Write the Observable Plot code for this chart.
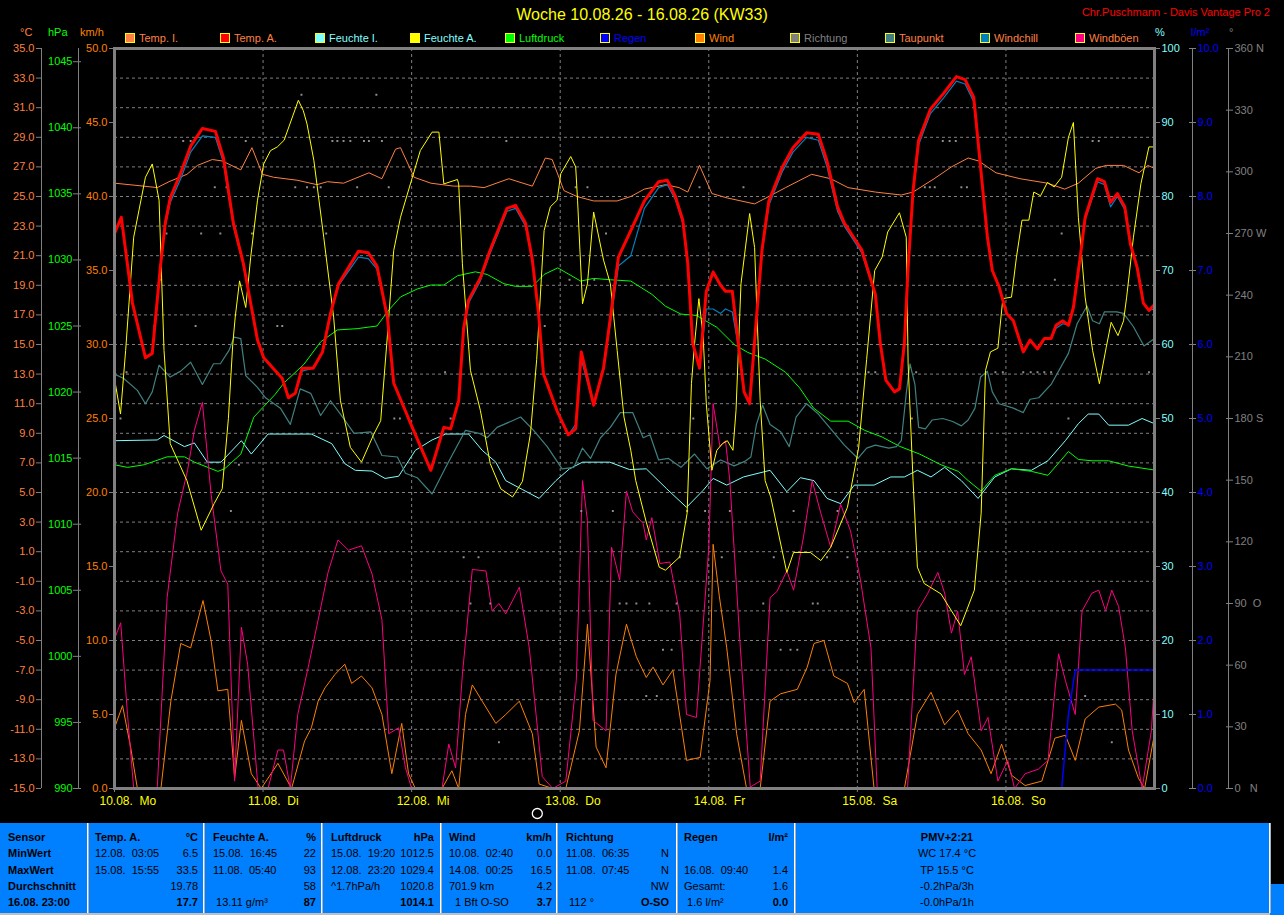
<!DOCTYPE html>
<html><head><meta charset="utf-8">
<script src="https://cdn.jsdelivr.net/npm/d3@7"></script>
<script src="https://cdn.jsdelivr.net/npm/@observablehq/plot@0.6"></script>
<style>
html,body{margin:0;padding:0;background:#000;overflow:hidden;}
#wrap{position:relative;width:1284px;height:915px;font-family:"Liberation Sans",Arial,sans-serif;}
.abs{position:absolute;white-space:pre;line-height:12px;}
#wrap svg{position:absolute;left:0;top:0;}
</style></head><body><div id="wrap"></div>
<script>
// ---------- ticks / labels ----------
const tempTicks = [35,33,31,29,27,25,23,21,19,17,15,13,11,9,7,5,3,1,-1,-3,-5,-7,-9,-11,-13,-15];
const presTicks = [1045,1040,1035,1030,1025,1020,1015,1010,1005,1000,995,990];
const windTicks = [50,45,40,35,30,25,20,15,10,5,0];
const humTicks = [100,90,80,70,60,50,40,30,20,10,0];
const rainTicks = [10,9,8,7,6,5,4,3,2,1,0];
const dirTicks = [360,330,300,270,240,210,180,150,120,90,60,30,0];
const dirLabels = ["360 N","330","300","270 W","240","210","180 S","150","120","90\u00a0\u00a0O","60","30","0\u00a0\u00a0\u00a0N"];
const dayTicks = [0,24,48,72,96,120,144];
const dayLabels = ["10.08.\u00a0\u00a0Mo","11.08.\u00a0\u00a0Di","12.08.\u00a0\u00a0Mi","13.08.\u00a0\u00a0Do","14.08.\u00a0\u00a0Fr","15.08.\u00a0\u00a0Sa","16.08.\u00a0\u00a0So"];

// ---------- series (hour since 10.08. 00:00, value) ----------
const tempA_h = [0,1.1,2.9,5.0,6.1,7.4,8.2,9.0,10.7,12.3,14.2,16.3,17.6,19.2,20.8,23.1,24.1,27.1,28.1,29.2,30.3,32.1,33.6,34.9,36.2,39.4,41.0,42.4,44.1,45.1,48.1,51.1,53.2,54.3,55.6,56.4,57.2,59.1,60.7,63.4,64.8,66.4,67.5,68.5,69.3,71.5,73.3,74.5,75.4,77.4,79.0,80.1,81.4,83.4,85.6,87.9,89.3,90.6,91.8,92.6,93.4,94.5,95.6,96.7,97.9,98.7,99.8,100.9,101.7,102.6,103.7,104.6,105.7,107.9,109.6,111.8,113.7,115.1,116.8,117.9,120.7,122.9,123.7,124.6,126.0,126.8,127.6,128.2,129.0,129.9,131.8,134.0,136.0,137.4,138.8,139.9,141.0,141.8,142.9,144.1,145.2,146.8,147.9,149.1,150.2,151.3,152.1,153.2,154.1,154.9,156.0,156.8,158.8,159.9,160.9,162.0,163.2,164.1,165.2,166.2,167.1,168];
const tempA_v = [22.5,23.6,17.8,14.1,14.4,20.2,23.2,24.9,26.6,28.4,29.6,29.4,27.6,23.2,20.5,15.3,14.1,12.7,11.4,11.7,13.4,13.4,14.5,17.1,19.1,21.3,21.2,20.3,16.8,12.4,9.4,6.5,9.4,9.3,11.2,16.1,18.0,19.5,21.4,24.2,24.4,23.2,20.7,17.1,13.0,10.5,8.9,9.3,14.5,10.9,13.4,16.8,20.9,22.7,24.7,26.0,26.1,25.0,23.4,20.5,15.1,13.4,18.6,19.9,19.0,18.6,18.6,14.6,11.8,11.0,16.8,21.4,24.7,27.0,28.3,29.3,29.2,27.4,24.3,23.2,21.4,18.4,15.1,12.6,11.8,12.0,15.1,20.2,25.4,28.8,30.9,32.0,33.1,32.9,31.7,27.0,22.3,20.0,18.9,17.1,16.6,14.5,15.3,14.7,15.4,15.4,16.3,16.6,16.3,17.5,20.9,23.6,26.2,26.0,24.6,25.2,24.3,21.8,20.2,17.8,17.3,17.7];
const windchill_v = [22.5,23.6,17.8,14.1,14.4,20.2,23.0,24.6,26.2,28.0,29.1,29.0,27.3,23.0,20.4,15.3,14.1,12.7,11.4,11.7,13.2,13.4,14.5,17.1,19.0,20.9,20.8,20.1,16.8,12.4,9.4,6.5,9.4,9.3,11.2,16.0,17.8,19.3,21.2,24.0,24.2,23.0,20.7,17.1,13.0,10.5,8.9,9.6,14.0,10.9,13.4,16.5,20.3,21.0,24.2,25.6,25.8,24.8,23.2,20.5,15.1,13.4,17.4,17.4,17.1,17.4,17.2,14.6,11.8,11.0,16.8,21.2,24.4,26.7,28.0,29.0,28.8,27.0,24.0,23.0,21.2,18.3,15.1,12.6,11.8,12.0,15.1,20.2,25.2,28.5,30.6,31.7,32.8,32.6,31.4,27.0,22.3,20.0,18.9,17.1,16.6,14.5,15.3,14.7,15.4,15.4,16.1,16.4,16.3,17.5,20.9,23.4,26.0,25.8,24.3,25.0,24.1,21.8,20.2,17.8,17.3,17.4];

const tempI = [[0,25.9],[4.7,25.7],[6.9,25.6],[8.8,26.0],[11.7,26.5],[13.4,27.1],[15.8,27.5],[17.4,27.4],[20.4,26.8],[22.2,28.3],[23.9,26.5],[25.7,26.3],[29.5,26.1],[32.7,25.8],[34.4,26.0],[37.0,25.9],[41.1,26.6],[43.2,26.2],[45.4,28.2],[46.2,28.3],[48.4,26.3],[51.1,25.9],[54.8,25.7],[57.5,25.7],[59.7,25.6],[63.7,26.2],[67.5,25.7],[69.6,27.6],[70.7,27.5],[72.6,25.4],[74.7,25.0],[77.4,24.7],[81.2,24.7],[83.4,25.0],[85.6,25.5],[89.0,25.8],[91.2,25.6],[92.6,25.3],[94.5,27.1],[96.5,25.2],[99.0,24.9],[103.4,24.5],[105.7,25.0],[108.4,25.6],[112.6,26.5],[115.7,26.2],[118.5,25.6],[122.9,25.3],[127.1,25.1],[129.0,25.3],[132.4,26.2],[135.2,27.0],[137.9,27.6],[139.6,27.4],[142.4,26.6],[146.3,26.2],[150.7,25.9],[153.5,25.5],[155.7,25.9],[158.5,26.9],[160.2,27.1],[163.0,27.1],[165.5,26.6],[166.9,27.1],[168,26.9]];

const humA = [[0,55.4],[0.97,50.6],[1.8,59.2],[3.1,74.5],[5.0,82.6],[6.1,84.4],[7.2,79.5],[8.0,59.2],[9.0,46.6],[11.7,41.6],[14.0,34.9],[16.1,38.5],[17.4,40.5],[18.4,50.0],[19.1,60.0],[19.5,63.7],[20.2,68.6],[21.2,65.0],[22.0,71.8],[23.1,79.5],[24.1,84.4],[25.2,86.2],[26.3,86.7],[27.4,87.6],[29.7,93.0],[30.5,91.6],[31.1,89.8],[32.2,84.9],[33.8,74.5],[35.4,63.7],[36.5,52.4],[38.1,46.1],[39.9,44.1],[41.9,47.9],[43.0,49.7],[44.1,61.4],[45.1,72.7],[46.2,77.2],[47.8,81.7],[49.4,86.2],[51.3,88.7],[52.4,88.7],[53.2,81.7],[55.4,82.3],[55.6,81.7],[56.2,70.9],[57.5,56.5],[59.1,51.1],[60.7,43.9],[62.4,40.5],[64.3,39.4],[65.9,41.5],[67.2,48.0],[68.2,58.0],[69.4,75.4],[70.4,78.6],[71.5,79.5],[72.1,83.1],[73.7,85.4],[74.5,84.0],[74.8,79.5],[75.6,65.5],[76.4,68.2],[77.4,77.9],[79.0,71.4],[80.1,68.2],[81.2,59.2],[82.3,50.2],[83.4,45.7],[84.2,41.6],[85.9,36.0],[88.0,29.9],[89.0,29.5],[91.3,31.3],[92.5,37.2],[93.2,54.7],[93.7,60.1],[94.4,66.2],[95.1,61.0],[95.6,52.0],[96.5,43.0],[97.3,45.7],[98.2,46.6],[99.0,47.0],[99.9,45.7],[100.4,51.1],[101.2,68.2],[102.6,77.7],[103.4,73.1],[104.3,52.4],[105.1,41.6],[106.0,39.4],[108.6,29.2],[109.7,31.9],[112.4,31.9],[114.1,30.8],[115.7,32.6],[118.4,38.0],[120.2,46.0],[121.5,58.0],[122.8,70.0],[124.0,71.8],[124.9,75.2],[126.8,77.8],[127.9,74.5],[128.2,57.4],[129.0,41.6],[129.7,29.9],[130.8,27.7],[133.5,26.3],[136.7,22.0],[138.9,26.8],[140.0,37.2],[140.7,56.5],[141.5,59.0],[142.7,59.5],[143.5,66.2],[144.9,66.4],[145.7,71.8],[146.6,76.8],[147.7,76.8],[148.5,80.6],[149.6,80.1],[150.7,81.9],[151.8,81.3],[153.0,82.6],[154.1,88.0],[154.9,90.0],[155.7,77.2],[156.8,66.4],[158.0,59.2],[159.1,54.7],[160.2,59.6],[161.0,63.0],[162.1,61.2],[163.0,63.2],[163.5,66.4],[164.6,74.5],[165.8,81.7],[167.1,86.7],[168,86.7]];

const humI = [[0,47.0],[6.9,47.1],[8.0,47.7],[11.3,46.2],[12.9,46.7],[15.0,44.1],[17.2,44.1],[20.5,47.0],[22.1,45.2],[24.8,47.9],[31.8,47.9],[35.1,46.6],[37.2,43.9],[38.9,43.0],[41.6,42.9],[43.7,41.9],[45.9,42.2],[48.6,45.7],[51.3,47.1],[53.5,47.9],[57.2,47.9],[59.4,45.7],[61.6,44.1],[63.2,41.6],[65.9,40.4],[68.6,39.2],[71.3,41.6],[73.5,43.2],[75.6,44.1],[80.0,44.1],[83.2,43.1],[85.9,43.2],[89.2,40.5],[92.4,38.0],[95.1,40.3],[96.7,41.9],[98.9,41.0],[101.6,42.1],[105.9,43.0],[108.6,40.1],[110.8,42.0],[113.0,41.6],[115.1,39.2],[117.3,38.5],[119.5,41.0],[122.7,41.0],[125.4,42.1],[127.6,42.1],[129.7,43.0],[131.9,42.1],[134.1,43.4],[136.8,41.6],[139.5,39.2],[142.2,42.1],[144.9,43.2],[148.1,43.0],[150.8,44.3],[153.6,47.0],[155.7,49.3],[157.3,50.6],[159.0,50.6],[160.6,49.1],[163.8,49.1],[166.0,50.0],[168,49.3]];

const pressure = [[0,1014.5],[2.1,1014.3],[4.8,1014.5],[8.5,1015.1],[11.3,1015.1],[12.9,1014.7],[16.7,1014.0],[17.8,1014.2],[20.4,1015.3],[22.5,1018.1],[25.9,1019.8],[27.4,1020.7],[30.6,1022.1],[33.3,1023.8],[36.0,1024.7],[39.2,1024.8],[42.4,1025.0],[44.3,1026.2],[46.2,1027.2],[48.9,1027.8],[51.1,1028.1],[53.2,1028.1],[55.4,1028.8],[58.3,1029.1],[60.2,1028.9],[62.9,1028.2],[64.8,1028.0],[67.5,1028.0],[69.4,1028.9],[71.6,1029.4],[75.3,1028.4],[77.4,1028.6],[80.1,1028.5],[83.4,1028.4],[86.8,1027.4],[89.0,1026.5],[91.5,1025.9],[94.0,1025.8],[97.3,1024.9],[100.1,1023.6],[102.3,1023.0],[105.1,1022.5],[108.4,1021.5],[110.7,1020.3],[112.9,1018.8],[115.7,1017.8],[118.5,1017.8],[121.2,1017.1],[124.0,1016.6],[126.8,1015.9],[130.1,1015.3],[133.5,1014.5],[136.3,1014.0],[137.9,1013.3],[140.0,1012.5],[142.2,1013.7],[144.9,1014.2],[148.1,1014.0],[150.8,1013.7],[154.1,1015.5],[155.7,1014.9],[157.9,1014.8],[160.6,1014.8],[163.8,1014.4],[168,1014.1]];

const dewpoint = [[0,13.0],[1.5,12.7],[3.7,11.9],[5.0,11.0],[6.1,11.8],[7.2,13.6],[9.0,12.8],[10.7,13.2],[12.3,13.8],[14.2,12.3],[16.0,13.7],[17.1,13.7],[18.5,14.6],[19.3,15.5],[20.4,15.4],[21.2,12.9],[23.1,12.1],[24.4,11.4],[26.8,10.7],[28.4,9.6],[30.0,12.0],[31.7,11.7],[33.3,10.2],[34.9,11.2],[36.5,10.3],[38.7,9.0],[41.4,9.1],[43.2,7.5],[45.7,7.4],[47.0,6.3],[48.9,6.0],[51.3,4.9],[53.5,6.7],[56.7,9.2],[58.9,9.0],[60.2,8.7],[61.8,9.4],[64.0,9.8],[65.6,10.1],[67.7,9.2],[69.9,8.1],[72.3,6.6],[74.2,6.7],[75.6,8.0],[76.9,7.3],[78.5,8.7],[80.1,9.4],[81.7,10.4],[83.7,10.4],[85.4,8.7],[86.5,8.9],[87.9,7.2],[89.5,7.3],[91.5,6.7],[93.7,7.6],[95.7,6.6],[97.9,7.2],[100.1,6.8],[101.8,7.1],[102.8,7.4],[103.7,9.6],[104.7,10.9],[105.9,9.6],[107.6,9.1],[109.0,8.1],[110.1,10.1],[111.8,11.0],[113.7,10.3],[115.7,9.3],[117.9,8.2],[120.1,7.3],[121.5,8.0],[122.9,8.2],[125.1,8.0],[126.3,8.1],[127.1,8.5],[127.9,11.7],[128.5,13.7],[129.3,12.3],[129.9,9.4],[131.0,9.3],[132.1,9.9],[133.8,10.0],[135.4,9.8],[136.8,9.5],[137.9,9.9],[139.0,10.7],[139.9,12.8],[141.0,13.2],[141.8,11.8],[142.9,11.0],[145.2,10.7],[146.8,10.4],[147.9,11.3],[149.3,11.4],[151.3,12.3],[154.1,14.4],[155.5,16.4],[157.1,17.6],[158.0,16.6],[159.1,16.4],[159.9,17.2],[161.9,17.2],[163.0,17.1],[164.6,16.2],[166.3,14.9],[168,15.4]];

const wind = [[0,4.1],[1.3,5.6],[2.6,2.8],[3.7,0],[7.5,0],[9.1,5.9],[10.7,9.8],[12.3,9.5],[14.3,12.7],[15.6,10.0],[16.7,6.6],[18.3,6.7],[19.4,0.7],[20.5,4.6],[22.1,1.0],[23.7,0],[26.4,1.7],[28.6,0],[30.7,3.2],[31.8,4.1],[32.9,5.9],[34.0,6.8],[35.6,7.7],[37.2,8.4],[38.3,7.1],[39.9,7.6],[41.6,6.8],[43.2,5.0],[44.8,1.0],[46.4,4.4],[47.5,1.0],[48.6,0],[52.9,0],[54.5,1.2],[55.6,0],[56.7,5.0],[57.8,7.0],[59.4,5.9],[61.6,4.4],[63.2,5.0],[65.4,5.9],[67.5,3.7],[68.6,0.3],[70.8,0],[72.9,0],[75.1,3.9],[76.4,11.1],[77.8,2.8],[79.4,1.4],[81.0,7.7],[82.7,11.1],[84.3,8.9],[85.9,7.5],[87.0,8.2],[88.6,7.0],[90.2,8.0],[92.4,1.9],[94.6,2.1],[96.2,7.3],[96.7,16.5],[97.7,13.0],[98.9,9.5],[100.5,3.7],[102.1,0],[104.3,0],[105.9,5.9],[107.6,6.4],[110.3,6.7],[111.9,8.2],[113.0,9.8],[114.6,10.0],[116.2,7.6],[118.4,7.1],[119.5,5.8],[121.1,6.7],[122.7,0],[127.6,0],[129.7,5.0],[131.9,6.5],[134.1,4.3],[136.2,5.3],[137.9,3.7],[140.0,2.6],[141.6,1.0],[143.3,3.0],[144.9,0.9],[147.1,0.2],[149.8,0.5],[151.9,3.4],[153.6,3.6],[155.2,1.9],[156.8,4.7],[159.0,5.5],[161.7,5.7],[162.7,5.3],[163.8,2.6],[165.4,0.7],[166.4,0],[168,3.7]];

const gusts = [[0,10.1],[1.0,11.2],[2.1,5.0],[3.1,0],[6.9,0],[8.5,12.9],[10.2,18.6],[11.8,21.5],[12.9,24.2],[14.2,26.1],[15.6,19.9],[17.2,14.7],[18.3,13.8],[19.4,0.5],[20.5,10.9],[21.5,8.4],[23.2,0],[24.8,0],[26.4,2.6],[27.3,2.6],[28.4,0],[29.6,5.0],[31.3,8.2],[32.9,11.4],[34.5,14.6],[36.1,16.8],[37.8,16.1],[39.9,16.4],[41.6,14.5],[43.2,11.4],[44.3,3.7],[45.9,4.1],[47.0,1.4],[48.0,0],[52.9,0],[54.0,3.0],[55.1,1.4],[56.2,7.7],[57.8,14.8],[60.0,14.7],[61.0,12.0],[62.1,12.5],[63.2,11.8],[65.4,13.6],[67.0,9.5],[68.1,5.0],[69.1,0.8],[70.8,0],[72.9,0.5],[74.6,7.3],[75.6,20.8],[76.4,18.1],[77.3,4.6],[79.4,3.9],[80.3,16.3],[81.6,14.1],[82.7,20.1],[83.7,18.7],[85.4,17.9],[85.9,16.8],[86.8,18.3],[88.1,15.2],[89.7,15.3],[91.3,11.8],[92.4,5.0],[94.0,4.8],[96.0,16.3],[96.7,26.0],[97.8,23.1],[98.7,23.5],[99.4,20.8],[101.1,9.5],[102.7,0.1],[104.3,0.5],[105.9,12.9],[107.0,13.3],[108.6,14.7],[109.7,13.4],[111.3,17.0],[112.7,20.8],[114.1,18.6],[115.7,16.3],[117.3,19.2],[118.9,17.4],[120.5,14.1],[122.2,9.5],[123.2,0],[128.1,0],[129.7,12.0],[131.4,13.2],[133.0,14.6],[134.1,13.2],[135.2,10.5],[136.2,12.0],[137.3,7.7],[138.4,8.9],[140.0,3.9],[141.1,4.8],[142.7,0.5],[144.3,1.9],[145.4,0],[147.1,1.0],[149.2,1.3],[150.8,1.9],[152.5,9.1],[153.6,7.3],[155.2,5.0],[156.3,12.0],[157.9,13.2],[159.0,13.4],[160.1,12.0],[161.1,13.4],[162.2,12.3],[163.3,9.5],[164.4,3.9],[166.0,0],[167.5,3.9],[168,7.3]];

const rain = [[0,0],[153.0,0],[154.1,1.0],[155.2,1.6],[168,1.6]];

const direction = [[0.97,180],[1.94,202.5],[6.46,225],[7.43,247.5],[8.4,270],[11.1,315],[12.3,315],[13.1,225],[14.0,270],[16.2,292.5],[17.1,270],[18.1,292.5],[18.8,135],[20.1,157.5],[21.2,315],[22.2,270],[26.3,225],[27.1,225],[29.2,292.5],[30.2,337.5],[31.1,292.5],[32.2,292.5],[33.3,292.5],[34.2,270],[35.2,315],[36.0,315],[37.0,315],[38.1,315],[39.2,292.5],[40.3,315],[41.1,315],[42.3,337.5],[43.2,315],[44.3,292.5],[45.2,180],[46.1,180],[53.4,202.5],[54.3,180],[56.4,112.5],[57.5,90],[58.8,112.5],[60.7,90],[62.1,22.5],[63.3,315],[69.5,225],[73.5,247.5],[74.5,292.5],[75.4,135],[76.4,292.5],[77.5,247.5],[79.4,270],[80.5,135],[81.6,90],[82.7,90],[84.3,90],[85.9,45],[86.4,90],[87.6,45],[88.6,67.5],[90.0,67.5],[90.8,90],[91.3,112.5],[92.5,135],[93.5,180],[94.5,292.5],[95.4,135],[98.1,112.5],[99.4,135],[101.6,292.5],[104.8,90],[106.5,112.5],[107.6,67.5],[109.2,67.5],[109.7,135],[110.3,67.5],[112.8,90],[113.6,90],[115.1,112.5],[116.8,135],[118.4,112.5],[121.8,202.5],[122.9,202.5],[128.8,180],[129.5,202.5],[130.9,292.5],[131.7,292.5],[132.5,292.5],[133.8,315],[134.9,315],[135.9,315],[136.8,292.5],[137.7,292.5],[142.3,202.5],[143.5,202.5],[146.8,202.5],[148.0,202.5],[149.1,202.5],[150.2,202.5],[151.3,202.5],[151.9,247.5],[153.0,270],[154.1,180],[156.8,45],[158.0,315],[159.0,315],[161.1,22.5],[167.1,202.5]];

const moonPhase = [{h: 68.3}];

// ---------- legend / table texts ----------
const legendNames = ["Temp. I.","Temp. A.","Feuchte I.","Feuchte A.","Luftdruck","Regen","Wind","Richtung","Taupunkt","Windchill","Windböen"];
const legendColors = ["#FF8040","#FF0000","#80FFFF","#FFFF00","#00FF00","#0000FF","#FF8000","#808080","#408080","#0080C0","#FF0080"];
const legendTextColors = ["#FF8040","#FF8040","#80FFFF","#80FFFF","#00FF00","#0000FF","#FF8000","#808080","#FF8040","#FF8040","#FF8040"];

const tableCols = [
 {x: 8, r: 0, rows: [["Sensor",""],["MinWert",""],["MaxWert",""],["Durchschnitt",""],["16.08. 23:00",""]]},
 {x: 95, r: 198, rows: [["Temp. A.","°C"],["12.08.  03:05","6.5"],["15.08.  15:55","33.5"],["","19.78"],["","17.7"]]},
 {x: 213, r: 316, rows: [["Feuchte A.","%"],["15.08.  16:45","22"],["11.08.  05:40","93"],["","58"],[" 13.11 g/m³","87"]]},
 {x: 331, r: 434, rows: [["Luftdruck","hPa"],["15.08.  19:20","1012.5"],["12.08.  23:20","1029.4"],["^1.7hPa/h","1020.8"],["","1014.1"]]},
 {x: 449, r: 552, rows: [["Wind","km/h"],["10.08.  02:40","0.0"],["14.08.  00:25","16.5"],["701.9 km","4.2"],["  1 Bft O-SO","3.7"]]},
 {x: 566, r: 669, rows: [["Richtung",""],["11.08.  06:35","N"],["11.08.  07:45","N"],["","NW"],[" 112 °","O-SO"]]},
 {x: 684, r: 788, rows: [["Regen","l/m²"],["",""],["16.08.  09:40","1.4"],["Gesamt:","1.6"],[" 1.6 l/m²","0.0"]]}
];
const pmvTexts = ["PMV+2:21","WC 17.4 °C","TP 15.5 °C","-0.2hPa/3h","-0.0hPa/1h"];
const tableSeps = [88,204,322,441,557,677,795,1270];
const rowY = [837,853,870,886,902];

// ---------- scale mappings onto the shared (°C) y scale ----------
const fromHum = h => -15 + h / 2;
const fromWind = w => w - 15;
const fromPres = p => -15 + (p - 990) * 50 / 56;
const fromRain = r => -15 + r * 5;
const fromDir = d => -15 + d * 50 / 360;
const toPres = t => 990 + (t + 15) * 56 / 50;
const toHum = t => (t + 15) * 2;
const toWind = t => t + 15;
const toRain = t => (t + 15) / 5;
const dirMap = new Map(dirTicks.map((d, i) => [fromDir(d), dirLabels[i]]));

const rows = (pairs, f) => pairs.map(([h, v]) => ({h, v: f(v)}));
const id = v => v;
const rowsTA = tempA_h.map((h, i) => ({h, v: tempA_v[i]}));
const rowsWC = tempA_h.map((h, i) => ({h, v: windchill_v[i]}));

const G = "#808080";
const chart = Plot.plot({
  width: 1284, height: 820,
  marginLeft: 114, marginRight: 130, marginTop: 48, marginBottom: 32,
  style: "background:#000;color:#fff;font-family:'Liberation Sans',Arial,sans-serif;font-size:11px;overflow:visible;",
  x: {domain: [0, 168], axis: null},
  y: {domain: [-15, 35], axis: null},
  marks: [
    Plot.gridY(tempTicks.filter(t => t > -15 && t < 35), {stroke: G, strokeOpacity: 1, strokeDasharray: "3,3"}),
    Plot.gridX(dayTicks.filter(d => d > 0), {stroke: G, strokeOpacity: 1, strokeDasharray: "3,3"}),
    // axis lines
    Plot.ruleX([0], {y1: -15, y2: 35, dx: -73, stroke: G}),
    Plot.ruleX([0], {y1: -15, y2: 35, dx: -36, stroke: G}),
    Plot.ruleX([168], {y1: -15, y2: 35, dx: 38, stroke: G}),
    Plot.ruleX([168], {y1: -15, y2: 35, dx: 74, stroke: G}),
    // left axes
    Plot.axisY(tempTicks, {anchor: "left", dx: -73, tickSize: 5, tickPadding: 2, stroke: G, fill: "#FF8040", tickFormat: d => d.toFixed(1), label: null, fontSize: 11}),
    Plot.axisY(presTicks.map(fromPres), {anchor: "left", dx: -33, tickSize: 8, tickPadding: 1, stroke: G, fill: "#00FF00", tickFormat: t => String(Math.round(toPres(t))), label: null, fontSize: 11}),
    Plot.axisY(windTicks.map(fromWind), {anchor: "left", tickSize: 5, tickPadding: 2, stroke: G, fill: "#FF8000", tickFormat: t => toWind(t).toFixed(1), label: null, fontSize: 11}),
    // right axes
    Plot.axisY(humTicks.map(fromHum), {anchor: "right", tickSize: 5, tickPadding: 2, stroke: G, fill: "#80FFFF", tickFormat: t => String(Math.round(toHum(t))), label: null, fontSize: 11}),
    Plot.axisY(rainTicks.map(fromRain), {anchor: "right", dx: 34, tickSize: 7, tickPadding: 2, stroke: G, fill: "#0000FF", tickFormat: t => toRain(t).toFixed(1), label: null, fontSize: 11}),
    Plot.axisY(dirTicks.map(fromDir), {anchor: "right", dx: 71, tickSize: 7, tickPadding: 2, stroke: G, fill: G, tickFormat: t => dirMap.get(t), label: null, fontSize: 11}),
    // x axis
    Plot.axisX(dayTicks, {anchor: "bottom", tickSize: 4, stroke: G, fill: "none", label: null}),
    Plot.axisX(dayTicks, {anchor: "bottom", tickSize: 4, tickPadding: 4, stroke: "none", fill: "#FFFF00", textAnchor: "start", dx: -15, fontSize: 12, tickFormat: d => dayLabels[d / 24], label: null}),
    // series
    Plot.line(rows(tempI, id), {x: "h", y: "v", stroke: "#FF8040", strokeWidth: 1}),
    Plot.line(rows(humI, fromHum), {x: "h", y: "v", stroke: "#80FFFF", strokeWidth: 1}),
    Plot.line(rows(pressure, fromPres), {x: "h", y: "v", stroke: "#00FF00", strokeWidth: 1}),
    Plot.line(rows(dewpoint, id), {x: "h", y: "v", stroke: "#408080", strokeWidth: 1.2}),
    Plot.line(rows(wind, fromWind), {x: "h", y: "v", stroke: "#FF8000", strokeWidth: 1}),
    Plot.line(rows(gusts, fromWind), {x: "h", y: "v", stroke: "#FF0080", strokeWidth: 1}),
    Plot.dot(rows(direction, fromDir), {x: "h", y: "v", r: 1.1, symbol: "square", fill: "#909090"}),
    Plot.line(rowsWC, {x: "h", y: "v", stroke: "#0080C0", strokeWidth: 1.2}),
    Plot.line(rows(humA, fromHum), {x: "h", y: "v", stroke: "#FFFF00", strokeWidth: 1}),
    Plot.line(rowsTA, {x: "h", y: "v", stroke: "#FF0000", strokeWidth: 3}),
    Plot.line(rows(rain, fromRain), {x: "h", y: "v", stroke: "#0000FF", strokeWidth: 1.5}),
    Plot.frame({stroke: G, strokeWidth: 3}),
    Plot.dot(moonPhase, {x: "h", frameAnchor: "bottom", dy: 25, r: 5, stroke: "#fff", strokeWidth: 1.3, fill: "none"})
  ]
});

const wrap = document.getElementById("wrap");
wrap.appendChild(chart);

function addText(txt, css) {
  const d = document.createElement("div");
  d.className = "abs";
  d.textContent = txt;
  Object.assign(d.style, css);
  wrap.appendChild(d);
  return d;
}
function addBox(css) {
  const d = document.createElement("div");
  d.style.position = "absolute";
  Object.assign(d.style, css);
  wrap.appendChild(d);
  return d;
}

// title & credit
addText("Woche 10.08.26 - 16.08.26 (KW33)", {left: "0px", width: "1284px", textAlign: "center", top: "7px", fontSize: "16px", lineHeight: "16px", color: "#FFFF00"});
addText("Chr.Puschmann - Davis Vantage Pro 2", {left: "970px", width: "300px", textAlign: "right", top: "6px", fontSize: "11px", color: "#FF0000"});

// legend
legendNames.forEach((name, i) => {
  const x = 124.5 + i * 95;
  addBox({left: x + "px", top: "33px", width: "8px", height: "8px", background: legendColors[i], border: "1px solid #FFFF00"});
  addText(name, {left: (x + 14.5) + "px", top: "32px", fontSize: "11px", color: legendTextColors[i]});
});

// axis unit headers
addText("°C", {left: "20px", top: "26px", fontSize: "11px", color: "#FF8040"});
addText("hPa", {left: "48px", top: "26px", fontSize: "11px", color: "#00FF00"});
addText("km/h", {left: "80px", top: "26px", fontSize: "11px", color: "#FF8000"});
addText("%", {left: "1155px", top: "26px", fontSize: "11px", color: "#80FFFF"});
addText("l/m²", {left: "1191px", top: "26px", fontSize: "11px", color: "#0000FF"});
addText("°", {left: "1229px", top: "26px", fontSize: "11px", color: "#808080"});

// table panel
addBox({left: "0px", top: "823px", width: "1270px", height: "90px", background: "#0080FF", borderBottom: "2px solid #C0C0C0"});
addBox({left: "1270px", top: "884px", width: "14px", height: "31px", background: "#0080FF"});
tableSeps.forEach(x => addBox({left: (x - 1) + "px", top: "823px", width: "1px", height: "90px", background: "#FFFFFF", borderRight: "1px solid #B0B0B0"}));

tableCols.forEach((col, ci) => {
  col.rows.forEach((r, ri) => {
    const bold = ri === 0 || ci === 0;
    if (r[0]) addText(r[0], {left: col.x + "px", top: (rowY[ri] - 6) + "px", fontSize: "11px", color: "#000", fontWeight: bold ? "bold" : "normal"});
    if (r[1]) {
      const d = addText(r[1], {top: (rowY[ri] - 6) + "px", fontSize: "11px", color: "#000", fontWeight: (ri === 0 || ri === 4) ? "bold" : "normal", textAlign: "right"});
      d.style.left = (col.r - 150) + "px"; d.style.width = "150px";
    }
  });
});
pmvTexts.forEach((t, i) => addText(t, {left: "847px", width: "200px", textAlign: "center", top: (rowY[i] - 6) + "px", fontSize: "11px", color: "#000", fontWeight: i === 0 ? "bold" : "normal"}));
</script></body></html>
